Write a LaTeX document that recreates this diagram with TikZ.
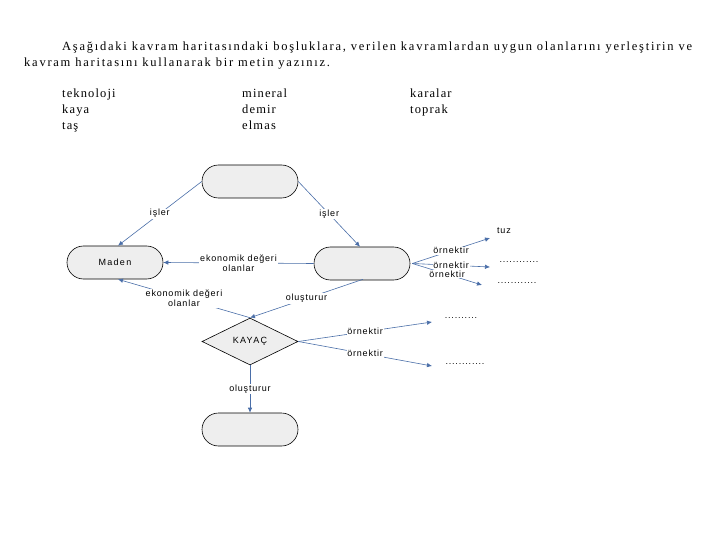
\documentclass[tikz,border=0pt]{standalone}
\usepackage{fontspec}
\setmainfont{Liberation Serif}
\newfontfamily\titlefont[LetterSpace=14]{Liberation Serif}
\newfontfamily\wordfont[LetterSpace=9]{Liberation Serif}
\newfontfamily\labfont[LetterSpace=9]{Liberation Sans}
\newfontfamily\nodefont[LetterSpace=14]{Liberation Sans}
\usetikzlibrary{shapes.geometric,arrows.meta}
\definecolor{edgeblue}{HTML}{4A6EA8}
\definecolor{nodegray}{HTML}{EEEEEE}
\begin{document}
\begin{tikzpicture}[x=1pt,y=-1pt,
  stad/.style={draw=black, fill=nodegray, rounded corners=16.5pt, minimum width=96pt, minimum height=33pt, inner sep=0pt, font=\nodefont\fontsize{9}{10}\selectfont, line width=0.6pt},
  dia/.style={draw=black, fill=nodegray, diamond, minimum width=96pt, minimum height=47pt, inner sep=0pt, font=\nodefont\fontsize{9}{10}\selectfont, line width=0.6pt},
  conn/.style={draw=edgeblue, line width=0.6pt, -{Latex[length=5pt,width=4.5pt]}},
  lab/.style={fill=white, inner sep=0.8pt, font=\labfont\fontsize{9}{10}\selectfont, align=center},
  txt/.style={inner sep=0pt, font=\labfont\fontsize{9}{10}\selectfont},
  head/.style={inner sep=0pt, anchor=base west, font=\titlefont\fontsize{12.5}{14}\selectfont},
  word/.style={inner sep=0pt, anchor=base west, font=\wordfont\fontsize{12.5}{14}\selectfont},
]
\useasboundingbox (0,0) rectangle (720,540);
% heading
\node[head] (h1) at (62,51) {Aşağıdaki kavram haritasındaki boşluklara, verilen kavramlardan uygun olanlarını yerleştirin ve};
\node[head] (h2) at (24,67) {kavram haritasını kullanarak bir metin yazınız.};
% word list
\node[word] (w1) at (62,98) {teknoloji};
\node[word] (w2) at (62,114) {kaya};
\node[word] (w3) at (62,130) {taş};
\node[word] (w4) at (242,98) {mineral};
\node[word] (w5) at (242,114) {demir};
\node[word] (w6) at (242,130) {elmas};
\node[word] (w7) at (410,98) {karalar};
\node[word] (w8) at (410,114) {toprak};
% nodes
\node[stad] (top) at (250,181.5) {};
\node[stad] (maden) at (115,262.5) {Maden};
\node[stad] (right) at (362,263.5) {};
\node[dia] (kaya) at (250,341.5) {KAYAÇ};
\node[stad] (bottom) at (250,429.5) {};
% free ends
\coordinate (e1) at (490,238);
\coordinate (e2) at (490,267);
\coordinate (e3) at (482,285);
\coordinate (e4) at (432,322);
\coordinate (e5) at (432,366);
% text at free ends
\node[txt] (tuz) at (504,231) {tuz};
\node[txt] (d1) at (519,262) {............};
\node[txt] (d2) at (517,283) {............};
\node[txt] (d3) at (461,318) {..........};
\node[txt] (d4) at (465,364) {............};
% connectors
\draw[conn] (top.west) -- node[lab] {işler} ([xshift=3pt]maden.north);
\draw[conn] (top.east) -- node[lab] {işler} ([xshift=-2pt]right.north);
\draw[conn] (right.west) -- node[lab] {ekonomik değeri\\olanlar} (maden.east);
\draw[conn] (kaya.north) -- node[lab] {ekonomik değeri\\olanlar} ([xshift=3pt]maden.south);
\draw[conn] ([xshift=1pt,yshift=1pt]right.south) -- node[lab] {oluşturur} (kaya.north);
\draw[conn] (kaya.south) -- node[lab] {oluşturur} (bottom.north);
\draw[conn] ([xshift=2pt]right.east) -- node[lab] {örnektir} (e1);
\draw[conn] ([xshift=2pt]right.east) -- node[lab] {örnektir} (e2);
\draw[conn] ([xshift=2pt]right.east) -- node[lab] {örnektir} (e3);
\draw[conn] (kaya.east) -- node[lab] {örnektir} (e4);
\draw[conn] (kaya.east) -- node[lab] {örnektir} (e5);
\end{tikzpicture}
\end{document}
